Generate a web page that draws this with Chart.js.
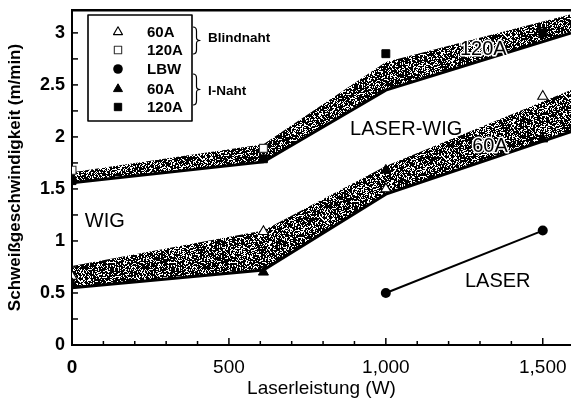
<!DOCTYPE html>
<html><head><meta charset="utf-8">
<script src="https://cdn.jsdelivr.net/npm/chart.js@4/dist/chart.umd.min.js"></script>
<style>html,body{margin:0;padding:0;background:#fff}canvas{display:block}</style>
</head><body>
<canvas id="c" width="571" height="400"></canvas>
<script>
// ---- data ----
const powerBand   = [0, 610, 1000, 1590];          // W
const band60Low   = [0.55, 0.72, 1.45, 2.05];      // m/min, lower edge of 60A band
const band60High  = [0.76, 1.10, 1.72, 2.45];      // upper edge of 60A band
const band120Low  = [1.56, 1.76, 2.45, 3.00];      // lower edge of 120A band
const band120High = [1.66, 1.93, 2.72, 3.18];      // upper edge of 120A band

const powerBlind60  = [0, 610, 1000, 1500];
const blind60       = [0.66, 1.09, 1.50, 2.39];
const powerBlind120 = [0, 610];
const blind120      = [1.68, 1.89];
const powerLBW      = [1000, 1500];
const lbw           = [0.50, 1.10];
const powerI60      = [0, 610, 1000, 1500];
const iNaht60       = [0.59, 0.70, 1.68, 1.98];
const powerI120     = [0, 610, 1000, 1500];
const iNaht120      = [1.58, 1.79, 2.80, 3.00];

const xTickLabels = [0, 500, 1000, 1500];
const xMinorTicks = [100, 200, 300, 400, 600, 700, 800, 900, 1100, 1200, 1300, 1400];
const yTickLabels = [0, 0.5, 1, 1.5, 2, 2.5, 3];
const yMinorTicks = [0.25, 0.75, 1.25, 1.75, 2.25, 2.75];

const annoText = ['WIG', 'LASER-WIG', '60A', '120A', 'LASER'];
const annoX    = [41, 886, 1275, 1236, 1252];
const annoY    = [1.135, 2.02, 1.856, 2.79, 0.558];

const legendGroups = ['Blindnaht', 'I-Naht'];

// ---- styling helpers ----
const FONT = "'Liberation Sans', Arial, Helvetica, sans-serif";
const canvas = document.getElementById('c');
const mainCtx = canvas.getContext('2d');
function stipple(density) {
  const n = 61;
  const c = document.createElement('canvas'); c.width = c.height = n;
  const g = c.getContext('2d'); const img = g.createImageData(n, n);
  let s = 987654321;
  for (let i = 0; i < n * n; i++) {
    s = (Math.imul(s, 1103515245) + 12345) >>> 0;
    const v = ((s >>> 16) & 0x7fff) / 32768;
    img.data[i*4+3] = v < density ? 255 : 0;
  }
  g.putImageData(img, 0, 0);
  return mainCtx.createPattern(c, 'repeat');
}
const bandPattern = stipple(0.68);
const pts = (xs, ys) => xs.map((x, i) => ({x: x, y: ys[i]}));

const bandLow = (d) => ({label: '', data: d, borderColor: '#000', borderWidth: 3, pointRadius: 0, fill: false, order: 10, showLine: true});
const bandHigh = (d) => ({label: '', data: d, borderColor: 'rgba(0,0,0,0)', borderWidth: 0, pointRadius: 0, fill: '-1', backgroundColor: bandPattern, order: 10, showLine: true});

const datasets = [
  bandLow(pts(powerBand, band60Low)),
  bandHigh(pts(powerBand, band60High)),
  bandLow(pts(powerBand, band120Low)),
  bandHigh(pts(powerBand, band120High)),
  {label: '60A', group: 0, data: pts(powerBlind60, blind60), showLine: false, pointStyle: 'triangle', pointRadius: 5.8, backgroundColor: '#fff', borderColor: '#000', borderWidth: 1.1, order: 2},
  {label: '120A', group: 0, data: pts(powerBlind120, blind120), showLine: false, pointStyle: 'rect', pointRadius: 5.6, backgroundColor: '#fff', borderColor: '#333', borderWidth: 1.1, order: 2},
  {label: 'LBW', group: 1, data: pts(powerLBW, lbw), showLine: true, borderColor: '#000', borderWidth: 2, pointStyle: 'circle', pointRadius: 5, backgroundColor: '#000', pointBorderWidth: 0, order: 1},
  {label: '60A', group: 1, data: pts(powerI60, iNaht60), showLine: false, pointStyle: 'triangle', pointRadius: 5.8, backgroundColor: '#000', borderColor: '#000', borderWidth: 1, order: 1},
  {label: '120A', group: 1, data: pts(powerI120, iNaht120), showLine: false, pointStyle: 'rect', pointRadius: 5.6, backgroundColor: '#000', borderColor: '#000', borderWidth: 1, order: 1}
];

function line(ctx, x1, y1, x2, y2) { ctx.beginPath(); ctx.moveTo(x1, y1); ctx.lineTo(x2, y2); ctx.stroke(); }
function brace(ctx, x, y1, y2, w) {
  const ym = (y1 + y2) / 2, xm = x + w * 0.5;
  ctx.beginPath();
  ctx.moveTo(x, y1);
  ctx.quadraticCurveTo(xm, y1, xm, y1 + 4);
  ctx.lineTo(xm, ym - 3);
  ctx.quadraticCurveTo(xm, ym, x + w, ym);
  ctx.quadraticCurveTo(xm, ym, xm, ym + 3);
  ctx.lineTo(xm, y2 - 4);
  ctx.quadraticCurveTo(xm, y2, x, y2);
  ctx.stroke();
}
const noPad = s => { s.paddingLeft = 0; s.paddingRight = 0; s.paddingTop = 0; s.paddingBottom = 0; };

const overlay = {
  id: 'overlay',
  afterDraw(chart) {
    const ctx = chart.ctx, a = chart.chartArea;
    const xs = chart.scales.x, ys = chart.scales.y;
    ctx.save();
    // inward tick marks
    ctx.strokeStyle = '#000'; ctx.lineWidth = 1.5;
    yTickLabels.concat(yMinorTicks).forEach(v => { if (v === 0) return; const p = ys.getPixelForValue(v); line(ctx, a.left, p, a.left + 6, p); });
    xTickLabels.forEach(v => { if (v === 0) return; const p = xs.getPixelForValue(v); line(ctx, p, a.bottom, p, a.bottom - 7); });
    xMinorTicks.forEach(v => { const p = xs.getPixelForValue(v); line(ctx, p, a.bottom, p, a.bottom - 4); });

    // annotations
    ctx.font = '20px ' + FONT; ctx.textAlign = 'left'; ctx.textBaseline = 'alphabetic';
    annoText.forEach((t, i) => {
      const px = xs.getPixelForValue(annoX[i]), py = ys.getPixelForValue(annoY[i]);
      ctx.lineWidth = 3; ctx.strokeStyle = '#fff'; ctx.lineJoin = 'round';
      ctx.strokeText(t, px, py);
      ctx.fillStyle = '#000'; ctx.fillText(t, px, py);
    });

    // legend box
    const L = 88, T = 15, R = 192, B = 121;
    ctx.fillStyle = '#fff'; ctx.fillRect(L, T, R - L, B - T);
    ctx.strokeStyle = '#000'; ctx.lineWidth = 1.6; ctx.strokeRect(L, T, R - L, B - T);
    const rowY = [32, 50, 69, 89, 107];
    const items = chart.data.datasets.filter(d => d.label);
    ctx.font = 'bold 15px ' + FONT; ctx.textBaseline = 'middle';
    items.forEach((d, i) => {
      ctx.fillStyle = d.backgroundColor; ctx.strokeStyle = d.borderColor || '#000';
      ctx.lineWidth = d.borderWidth || 1;
      Chart.helpers.drawPoint(ctx, {pointStyle: d.pointStyle, radius: d.pointStyle === 'circle' ? 4.8 : 5.2, borderWidth: d.pointStyle === 'circle' ? 0 : (d.borderWidth || 1), rotation: 0}, 118, rowY[i]);
      ctx.fillStyle = '#000';
      ctx.fillText(d.label, 147, rowY[i] + 1);
    });
    // group braces
    ctx.strokeStyle = '#000'; ctx.lineWidth = 1.2;
    brace(ctx, 193, 27, 54, 7);
    brace(ctx, 193, 74, 105, 7);
    ctx.font = 'bold 13.5px ' + FONT; ctx.textBaseline = 'alphabetic'; ctx.fillStyle = '#000';
    ctx.fillText(legendGroups[0], 208, 42);
    ctx.fillText(legendGroups[1], 208, 95);
    ctx.restore();
  }
};

new Chart(canvas, {
  type: 'line',
  data: {datasets: datasets},
  options: {
    responsive: false, animation: false, devicePixelRatio: 1,
    layout: {padding: {top: 10, left: 0, right: 0, bottom: 0}, autoPadding: false},
    plugins: {legend: {display: false}, tooltip: {enabled: false}},
    elements: {line: {tension: 0}},
    scales: {
      x: {
        type: 'linear', position: 'bottom', min: 0, max: 1590,
        afterBuildTicks: s => { s.ticks = xTickLabels.map(v => ({value: v})); },
        afterFit: s => { s.height = 55; noPad(s); },
        grid: {drawOnChartArea: false, drawTicks: true, tickLength: 11, tickColor: 'rgba(0,0,0,0)'},
        border: {display: true, color: '#000', width: 2},
        ticks: {
          padding: 0, color: '#000', maxRotation: 0, autoSkip: false,
          font: c => ({family: FONT, size: 19, weight: (c.tick && c.tick.value === 0) ? 'bold' : 'normal'}),
          callback: v => Number(v).toLocaleString('en-US')
        },
        title: {display: true, text: 'Laserleistung (W)', color: '#000', font: {family: FONT, size: 19}, padding: 0}
      },
      x2: {
        type: 'linear', position: 'top', min: 0, max: 1590,
        grid: {drawOnChartArea: false, drawTicks: false},
        ticks: {display: false},
        border: {display: true, color: '#000', width: 2.5},
        afterFit: s => { s.height = 0; noPad(s); }
      },
      y: {
        min: 0, max: 3.22,
        afterBuildTicks: s => { s.ticks = yTickLabels.map(v => ({value: v})); },
        afterFit: s => { s.width = 72; noPad(s); },
        grid: {drawOnChartArea: false, drawTicks: false},
        border: {display: true, color: '#000', width: 2},
        ticks: {padding: 7, color: '#000', font: {family: FONT, size: 18, weight: 'bold'}, callback: v => String(v)},
        title: {display: true, text: 'Schweißgeschwindigkeit (m/min)', color: '#000', font: {family: FONT, size: 17, weight: 'bold'}, padding: {top: 5, bottom: 0}}
      }
    }
  },
  plugins: [overlay]
});
</script>
</body></html>
